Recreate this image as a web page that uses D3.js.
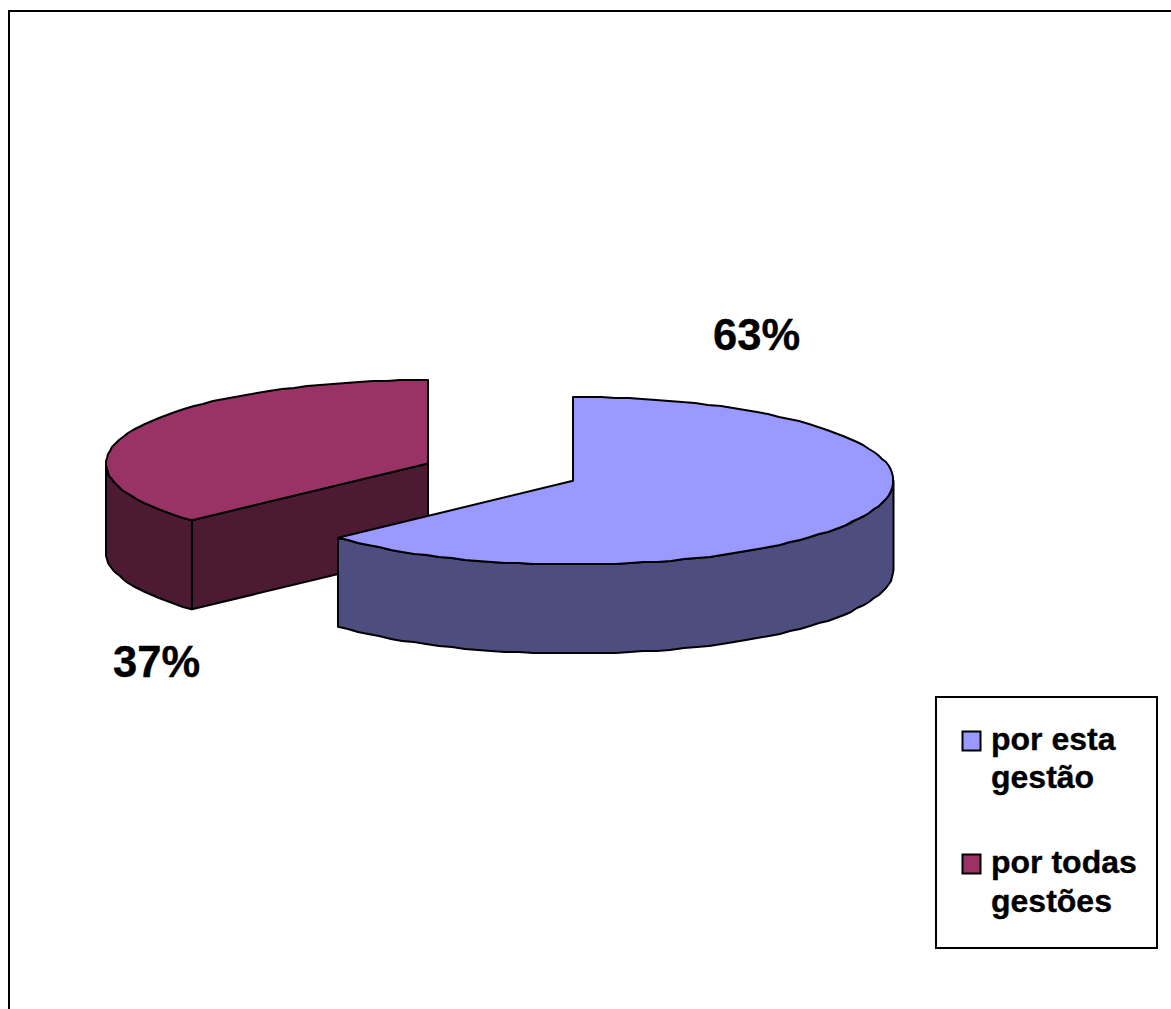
<!DOCTYPE html>
<html><head><meta charset="utf-8">
<script src="https://cdn.jsdelivr.net/npm/d3@7/dist/d3.min.js"></script>
<style>html,body{margin:0;padding:0;background:#fff}svg{display:block}text{font-family:"Liberation Sans",Arial,sans-serif;font-weight:bold;fill:#000;stroke:#000;stroke-width:.35px}</style>
</head><body><script>
const categories = ["por esta gestão", "por todas gestões"];
const values = [63.1, 36.9];
const labels = ["63%", "37%"];
const topColors = ["#9999FF", "#993366"];
const sideColors = ["#4D4D80", "#4D1A33"];
const legendLines = [["por esta", "gestão"], ["por todas", "gestões"]];

const W = 1171, H = 1009;
const svg = d3.select("body").append("svg").attr("width", W).attr("height", H);
svg.append("path").attr("d", d3.line()([[9, H], [9, 11], [W, 11]])).attr("fill", "none").attr("stroke", "#000").attr("stroke-width", 2);

const arcs = d3.pie().sort(null).value(d => d)(values);
const frames = [
  { x: d3.scaleLinear([-1, 1], [252.5, 893.5]), y: d3.scaleLinear([-1, 1], [397, 564.5]) },
  { x: d3.scaleLinear([-1, 1], [106, 750]), y: d3.scaleLinear([-1, 1], [380, 547]) }
];
const depth = d3.scaleLinear([0, 1], [0, 89]);
const line = d3.line().x(d => d[0]).y(d => d[1]);

function rim(f, a0, a1, dz) {
  const n = Math.max(2, Math.ceil(Math.abs(a1 - a0) / (Math.PI / 72)));
  return d3.range(n + 1).map(i => {
    const a = a0 + (a1 - a0) * i / n;
    const p = [f.x(Math.sin(a)), f.y(-Math.cos(a)) + dz];
    return (i === 0 || i === n) ? p : [Math.round(p[0]), Math.round(p[1])];
  });
}
function drawSlice(i) {
  const f = frames[i], a = arcs[i], dz = depth(1);
  const g = svg.append("g").attr("stroke", "#000").attr("stroke-width", 2).attr("stroke-linejoin", "round");
  const c = [f.x(0), f.y(0)];
  if (i === 1) {
    const t = a.startAngle;
    const p = [f.x(Math.sin(t)), f.y(-Math.cos(t))];
    g.append("path").attr("d", line([c, p, [p[0], p[1] + dz], [c[0], c[1] + dz]]) + "Z").attr("fill", sideColors[i]);
  }
  const w0 = Math.max(a.startAngle, Math.PI / 2), w1 = Math.min(a.endAngle, Math.PI * 1.5);
  if (w1 > w0) {
    const up = rim(f, w0, w1, 0), down = rim(f, w1, w0, dz);
    g.append("path").attr("d", line(up.concat(down)) + "Z").attr("fill", sideColors[i]);
  }
  g.append("path").attr("d", line([c].concat(rim(f, a.startAngle, a.endAngle, 0))) + "Z").attr("fill", topColors[i]);
}
drawSlice(1);
drawSlice(0);

const pctX = [713, 113], pctY = [350, 677];
labels.forEach((t, i) => svg.append("text").attr("x", pctX[i]).attr("y", pctY[i]).attr("font-size", 43.5).text(t));

svg.append("rect").attr("x", 936).attr("y", 697).attr("width", 221).attr("height", 251).attr("fill", "#fff").attr("stroke", "#000").attr("stroke-width", 2);
const swatchY = [731.5, 854.5], lineY = [[750, 788], [873, 912]];
categories.forEach((c, i) => {
  svg.append("rect").attr("x", 962.5).attr("y", swatchY[i]).attr("width", 18).attr("height", 19).attr("fill", topColors[i]).attr("stroke", "#000").attr("stroke-width", 2);
  legendLines[i].forEach((t, j) => svg.append("text").attr("x", 991).attr("y", lineY[i][j]).attr("font-size", 32).text(t));
});
</script></body></html>
